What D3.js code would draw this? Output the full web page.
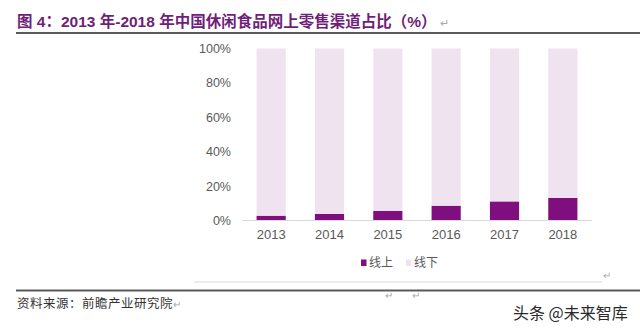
<!DOCTYPE html>
<html>
<head>
<meta charset="utf-8">
<script src="https://cdn.jsdelivr.net/npm/d3@7"></script>
<style>
  html, body { margin: 0; padding: 0; background: #fff; }
  svg { display: block; }
</style>
</head>
<body>
<svg id="chart" width="640" height="331"></svg>
<script>
const years = ["2013", "2014", "2015", "2016", "2017", "2018"];
const online = [2.8, 3.8, 5.6, 8.6, 11.1, 13.2];
const offline = [97.2, 96.2, 94.4, 91.4, 88.9, 86.8];
const seriesNames = ["线上", "线下"];
const yTicks = [0, 20, 40, 60, 80, 100];
const titleText = "图 4：2013 年-2018 年中国休闲食品网上零售渠道占比（%）";
const sourceText = "资料来源：前瞻产业研究院";
const watermark = "头条 @未来智库";

const colors = { "线上": "#7f0f7e", "线下": "#efe3f0" };

const svg = d3.select("#chart");
const cjk = "'Noto Sans CJK SC', 'Noto Sans', sans-serif";
const latin = "'Liberation Sans', Arial, sans-serif";

// Title
const title = svg.append("text")
  .attr("x", 17).attr("y", 26.5)
  .attr("fill", "#6f1f7a")
  .attr("font-weight", "bold")
  .attr("font-size", 15.5)
  .attr("font-family", latin + ", " + cjk)
  .text(titleText);
title.append("tspan").attr("fill", "#aaa").attr("font-weight", "normal").attr("font-size", 11).attr("dx", 4).text("↵");

svg.append("line").attr("x1", 16).attr("x2", 640).attr("y1", 33).attr("y2", 33)
  .attr("stroke", "#5a5a5a").attr("stroke-width", 2);

// Data table
const table = years.map((y, i) => ({ year: y, "线上": online[i], "线下": offline[i] }));
const stacked = d3.stack().keys(seriesNames)(table);

const x = d3.scaleBand().domain(years).range([242, 592]).paddingInner(0.5).paddingOuter(0.25);
const y = d3.scaleLinear().domain([0, 100]).range([220.5, 48.5]);

svg.append("g").selectAll("g").data(stacked).join("g")
  .attr("fill", d => colors[d.key])
  .selectAll("rect").data(d => d).join("rect")
  .attr("x", d => x(d.data.year))
  .attr("width", x.bandwidth())
  .attr("y", d => y(d[1]))
  .attr("height", d => y(d[0]) - y(d[1]));

// Y axis
const yAxis = svg.append("g").attr("transform", "translate(233,0)")
  .call(d3.axisLeft(y).tickValues(yTicks).tickFormat(d => d + "%").tickSize(0).tickPadding(2));
yAxis.select(".domain").remove();
yAxis.selectAll("text").attr("fill", "#595959").attr("font-size", 12.5).attr("font-family", latin);

// X axis
const xAxis = svg.append("g").attr("transform", "translate(0,220.5)")
  .call(d3.axisBottom(x).tickSize(0).tickPadding(9));
xAxis.select(".domain").remove();
xAxis.selectAll("text").attr("fill", "#595959").attr("font-size", 13).attr("font-family", latin);
svg.append("line").attr("x1", 242).attr("x2", 592).attr("y1", 220.5).attr("y2", 220.5)
  .attr("stroke", "#d9d9d9").attr("stroke-width", 1);

// Legend
const legendX = [361, 406];
const legend = svg.append("g").selectAll("g").data(seriesNames).join("g")
  .attr("transform", (d, i) => `translate(${legendX[i]},263)`);
legend.append("rect").attr("x", 0).attr("y", -3.5).attr("width", 5.5).attr("height", 6.5)
  .attr("fill", d => colors[d]);
legend.append("text").attr("x", 8).attr("y", 0).attr("dy", "0.36em")
  .attr("font-size", 12).attr("fill", "#595959").attr("font-family", cjk).text(d => d);

// Bottom frame
svg.append("line").attr("x1", 194).attr("x2", 602).attr("y1", 282).attr("y2", 282)
  .attr("stroke", "#d9d9d9").attr("stroke-width", 1);
svg.append("text").attr("x", 603).attr("y", 279).attr("font-size", 10).attr("fill", "#aaa").text("↵");
svg.append("line").attr("x1", 16).attr("x2", 640).attr("y1", 290.5).attr("y2", 290.5)
  .attr("stroke", "#5a5a5a").attr("stroke-width", 2);
svg.append("text").attr("x", 385).attr("y", 299).attr("font-size", 10).attr("fill", "#aaa").text("↵");
svg.append("text").attr("x", 412).attr("y", 299).attr("font-size", 10).attr("fill", "#aaa").text("↵");

// Source
const src = svg.append("text").attr("x", 17).attr("y", 307.5)
  .attr("font-size", 12.5).attr("fill", "#333").attr("font-family", cjk).attr("letter-spacing", 0.5)
  .text(sourceText);
src.append("tspan").attr("fill", "#aaa").attr("font-size", 10).text("↵");

// Watermark
svg.append("text").attr("x", 513).attr("y", 319)
  .attr("font-size", 16).attr("fill", "#2a2a2a").attr("font-family", cjk)
  .text(watermark);
</script>
</body>
</html>
